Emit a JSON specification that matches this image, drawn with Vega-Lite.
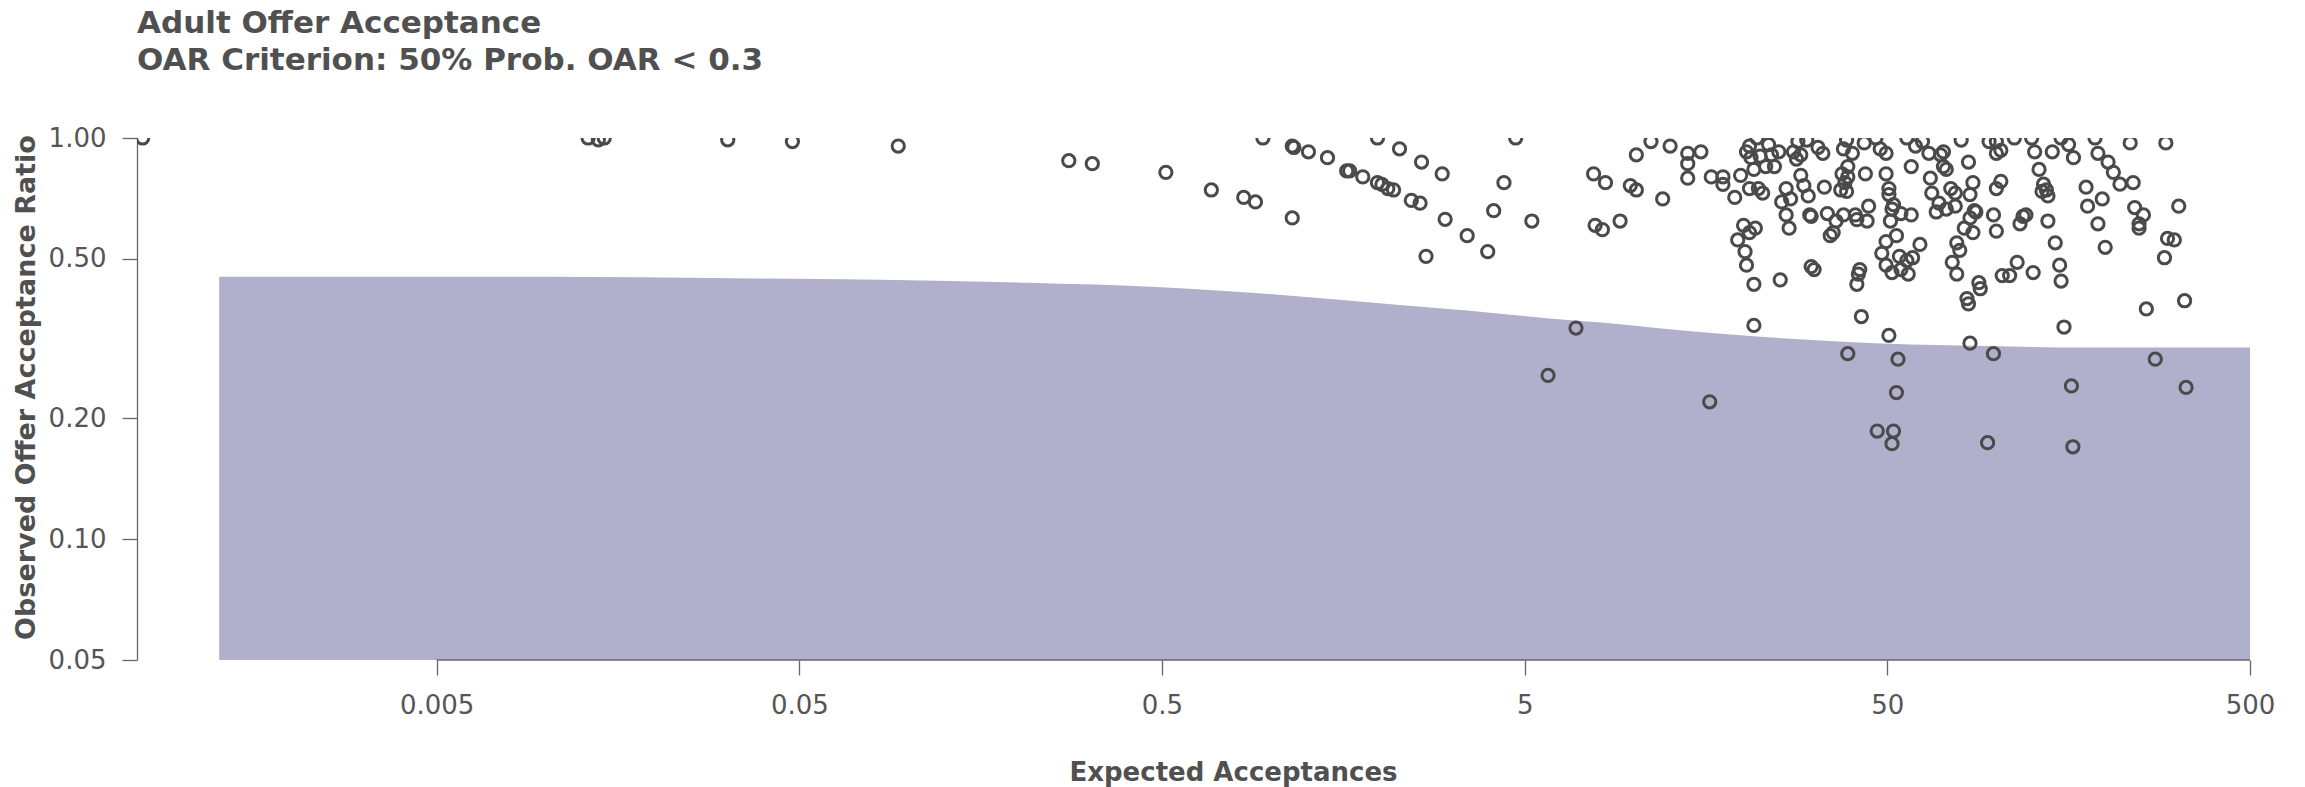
{
  "$schema": "https://vega.github.io/schema/vega-lite/v6.json",
  "width": 2113,
  "height": 522,
  "autosize": {"type": "none"},
  "padding": {"left": 137, "top": 138, "right": 55, "bottom": 127},
  "background": "white",
  "config": {"view": {"stroke": null}, "font": "DejaVu Sans"},
  "title": {
    "text": ["Adult Offer Acceptance", "OAR Criterion: 50% Prob. OAR < 0.3"],
    "anchor": "start",
    "frame": "group",
    "fontSize": 31,
    "fontWeight": "bold",
    "color": "#505050",
    "lineHeight": 37,
    "offset": 48
  },
  "layer": [
    {
      "data": {"values": [
        {"expected": 0.001257, "oar": 0.451},
        {"expected": 0.01, "oar": 0.451},
        {"expected": 0.0333, "oar": 0.447},
        {"expected": 0.0846, "oar": 0.4433},
        {"expected": 0.215, "oar": 0.4358},
        {"expected": 0.498, "oar": 0.4249},
        {"expected": 1.154, "oar": 0.4041},
        {"expected": 2.218, "oar": 0.3842},
        {"expected": 3.53, "oar": 0.3713},
        {"expected": 5.64, "oar": 0.3559},
        {"expected": 8.99, "oar": 0.3441},
        {"expected": 14.34, "oar": 0.330},
        {"expected": 22.87, "oar": 0.3191},
        {"expected": 36.5, "oar": 0.3111},
        {"expected": 58.2, "oar": 0.3058},
        {"expected": 92.8, "oar": 0.3032},
        {"expected": 147.9, "oar": 0.3007},
        {"expected": 500, "oar": 0.3005}
      ]},
      "mark": {"type": "area", "color": "#b0b0cc", "opacity": 1, "interpolate": "monotone"},
      "encoding": {
        "x": {
          "field": "expected", "type": "quantitative",
          "scale": {"type": "log", "domain": [0.000746, 500], "nice": false},
          "axis": {
            "title": "Expected Acceptances",
            "values": [0.005, 0.05, 0.5, 5, 50, 500],
            "format": "~g",
            "domain": false,
            "grid": false,
            "tickSize": 15,
            "tickWidth": 1.3,
            "tickColor": "#666666",
            "labelFontSize": 26,
            "labelColor": "#555555",
            "labelPadding": 17,
            "labelFlush": false,
            "titleFontSize": 26,
            "titleFontWeight": "bold",
            "titleColor": "#505050",
            "titleX": 1096,
            "titleY": 112,
            "titleBaseline": "middle",
            "titleAnchor": null
          }
        },
        "y": {
          "field": "oar", "type": "quantitative",
          "scale": {"type": "log", "domain": [0.05, 1], "nice": false},
          "axis": {
            "title": "Observed Offer Acceptance Ratio",
            "values": [0.05, 0.1, 0.2, 0.5, 1],
            "format": ".2f",
            "grid": false,
            "domainColor": "#666666",
            "domainWidth": 1.3,
            "tickSize": 15,
            "tickWidth": 1.3,
            "tickColor": "#666666",
            "labelFontSize": 26,
            "labelColor": "#555555",
            "labelPadding": 16,
            "labelFlush": false,
            "titleFontSize": 27,
            "titleFontWeight": "bold",
            "titleColor": "#505050",
            "titleX": -111,
            "titleY": 249,
            "titleBaseline": "middle",
            "titleAnchor": null
          }
        },
        "y2": {"datum": 0.05}
      }
    },
    {
      "data": {"values": [{"from": 0.005, "to": 500, "floor": 0.05}]},
      "mark": {"type": "rule", "color": "#666666", "strokeWidth": 1.3},
      "encoding": {
        "x": {"field": "from", "type": "quantitative"},
        "x2": {"field": "to"},
        "y": {"field": "floor", "type": "quantitative"}
      }
    },
    {
      "data": {"values": [
        {"expected": 0.000773, "oar": 1.0},
        {"expected": 0.01308, "oar": 1.0},
        {"expected": 0.01396, "oar": 0.99},
        {"expected": 0.01449, "oar": 1.0},
        {"expected": 0.03174, "oar": 0.99},
        {"expected": 0.04785, "oar": 0.98},
        {"expected": 0.0937, "oar": 0.955},
        {"expected": 0.2767, "oar": 0.878},
        {"expected": 0.3212, "oar": 0.863},
        {"expected": 0.5124, "oar": 0.821},
        {"expected": 0.684, "oar": 0.742},
        {"expected": 0.840, "oar": 0.711},
        {"expected": 0.905, "oar": 0.693},
        {"expected": 0.949, "oar": 1.0},
        {"expected": 1.143, "oar": 0.955},
        {"expected": 1.155, "oar": 0.947},
        {"expected": 1.267, "oar": 0.924},
        {"expected": 1.430, "oar": 0.893},
        {"expected": 1.143, "oar": 0.632},
        {"expected": 1.615, "oar": 0.828},
        {"expected": 1.646, "oar": 0.828},
        {"expected": 1.789, "oar": 0.80},
        {"expected": 1.964, "oar": 0.774},
        {"expected": 2.02, "oar": 0.766},
        {"expected": 2.097, "oar": 0.748},
        {"expected": 2.175, "oar": 0.742},
        {"expected": 1.964, "oar": 1.0},
        {"expected": 2.259, "oar": 0.940},
        {"expected": 2.435, "oar": 0.699},
        {"expected": 2.598, "oar": 0.871},
        {"expected": 2.574, "oar": 0.688},
        {"expected": 2.962, "oar": 0.814},
        {"expected": 2.673, "oar": 0.507},
        {"expected": 3.018, "oar": 0.627},
        {"expected": 3.471, "oar": 0.571},
        {"expected": 3.955, "oar": 0.521},
        {"expected": 4.107, "oar": 0.659},
        {"expected": 4.384, "oar": 0.774},
        {"expected": 4.723, "oar": 1.0},
        {"expected": 5.233, "oar": 0.621},
        {"expected": 5.80, "oar": 0.256},
        {"expected": 6.926, "oar": 0.336},
        {"expected": 7.745, "oar": 0.814},
        {"expected": 7.82, "oar": 0.606},
        {"expected": 8.19, "oar": 0.591},
        {"expected": 8.35, "oar": 0.774},
        {"expected": 9.165, "oar": 0.621},
        {"expected": 9.78, "oar": 0.761},
        {"expected": 10.16, "oar": 0.908},
        {"expected": 10.16, "oar": 0.742},
        {"expected": 11.15, "oar": 0.98},
        {"expected": 12.01, "oar": 0.705},
        {"expected": 12.59, "oar": 0.955},
        {"expected": 14.08, "oar": 0.916},
        {"expected": 14.08, "oar": 0.863},
        {"expected": 14.08, "oar": 0.794},
        {"expected": 15.31, "oar": 0.924},
        {"expected": 16.35, "oar": 0.80},
        {"expected": 17.61, "oar": 0.80},
        {"expected": 17.61, "oar": 0.766},
        {"expected": 16.19, "oar": 0.220},
        {"expected": 18.98, "oar": 0.711},
        {"expected": 19.34, "oar": 0.557},
        {"expected": 20.07, "oar": 0.606},
        {"expected": 20.26, "oar": 0.521},
        {"expected": 20.45, "oar": 0.482},
        {"expected": 20.84, "oar": 0.581},
        {"expected": 21.63, "oar": 0.596},
        {"expected": 20.45, "oar": 0.924},
        {"expected": 20.84, "oar": 0.955},
        {"expected": 21.04, "oar": 0.893},
        {"expected": 21.43, "oar": 0.835},
        {"expected": 21.84, "oar": 1.0},
        {"expected": 19.70, "oar": 0.807},
        {"expected": 20.84, "oar": 0.748},
        {"expected": 22.05, "oar": 0.748},
        {"expected": 22.66, "oar": 0.729},
        {"expected": 22.3, "oar": 0.901},
        {"expected": 23.1, "oar": 0.849},
        {"expected": 21.43, "oar": 0.432},
        {"expected": 21.43, "oar": 0.341},
        {"expected": 23.52, "oar": 0.963},
        {"expected": 23.97, "oar": 0.908},
        {"expected": 24.42, "oar": 0.849},
        {"expected": 25.1, "oar": 0.924},
        {"expected": 25.57, "oar": 0.693},
        {"expected": 26.3, "oar": 0.748},
        {"expected": 26.3, "oar": 0.643},
        {"expected": 26.8, "oar": 0.596},
        {"expected": 27.05, "oar": 0.705},
        {"expected": 25.33, "oar": 0.443},
        {"expected": 27.56, "oar": 0.924},
        {"expected": 28.08, "oar": 0.886},
        {"expected": 28.86, "oar": 0.908},
        {"expected": 28.86, "oar": 0.807},
        {"expected": 29.42, "oar": 0.761},
        {"expected": 30.26, "oar": 0.717},
        {"expected": 30.55, "oar": 0.643},
        {"expected": 30.83, "oar": 0.638},
        {"expected": 30.83, "oar": 0.478},
        {"expected": 31.41, "oar": 0.470},
        {"expected": 29.98, "oar": 0.988},
        {"expected": 28.34, "oar": 0.980},
        {"expected": 32.2, "oar": 0.947},
        {"expected": 33.21, "oar": 0.916},
        {"expected": 33.52, "oar": 0.754},
        {"expected": 34.16, "oar": 0.648},
        {"expected": 34.8, "oar": 0.571},
        {"expected": 35.45, "oar": 0.581},
        {"expected": 36.1, "oar": 0.621},
        {"expected": 37.85, "oar": 0.643},
        {"expected": 37.85, "oar": 0.939},
        {"expected": 38.6, "oar": 0.988},
        {"expected": 38.6, "oar": 0.736},
        {"expected": 38.9, "oar": 0.800},
        {"expected": 38.9, "oar": 0.849},
        {"expected": 37.5, "oar": 0.814},
        {"expected": 38.2, "oar": 0.774},
        {"expected": 37.2, "oar": 0.742},
        {"expected": 40.05, "oar": 0.916},
        {"expected": 40.8, "oar": 0.643},
        {"expected": 41.2, "oar": 0.626},
        {"expected": 41.6, "oar": 0.458},
        {"expected": 41.2, "oar": 0.432},
        {"expected": 41.97, "oar": 0.470},
        {"expected": 38.9, "oar": 0.290},
        {"expected": 43.17, "oar": 0.972},
        {"expected": 42.4, "oar": 0.359},
        {"expected": 43.98, "oar": 0.621},
        {"expected": 44.4, "oar": 0.676},
        {"expected": 43.5, "oar": 0.814},
        {"expected": 46.5, "oar": 1.0},
        {"expected": 47.8, "oar": 0.939},
        {"expected": 49.6, "oar": 0.814},
        {"expected": 49.6, "oar": 0.916},
        {"expected": 50.5, "oar": 0.748},
        {"expected": 50.5, "oar": 0.723},
        {"expected": 51.0, "oar": 0.621},
        {"expected": 51.5, "oar": 0.665},
        {"expected": 52.0, "oar": 0.682},
        {"expected": 52.98, "oar": 0.571},
        {"expected": 54.5, "oar": 0.648},
        {"expected": 54.0, "oar": 0.507},
        {"expected": 56.6, "oar": 1.0},
        {"expected": 58.2, "oar": 0.643},
        {"expected": 58.2, "oar": 0.849},
        {"expected": 59.8, "oar": 0.955},
        {"expected": 48.28, "oar": 0.516},
        {"expected": 49.6, "oar": 0.482},
        {"expected": 49.6, "oar": 0.552},
        {"expected": 51.5, "oar": 0.462},
        {"expected": 50.5, "oar": 0.322},
        {"expected": 54.5, "oar": 0.470},
        {"expected": 56.6, "oar": 0.495},
        {"expected": 57.1, "oar": 0.458},
        {"expected": 58.7, "oar": 0.503},
        {"expected": 61.5, "oar": 0.543},
        {"expected": 62.5, "oar": 0.980},
        {"expected": 65.1, "oar": 0.916},
        {"expected": 65.7, "oar": 0.794},
        {"expected": 66.3, "oar": 0.729},
        {"expected": 68.2, "oar": 0.654},
        {"expected": 69.4, "oar": 0.688},
        {"expected": 70.1, "oar": 0.908},
        {"expected": 71.4, "oar": 0.924},
        {"expected": 71.4, "oar": 0.849},
        {"expected": 72.7, "oar": 0.835},
        {"expected": 72.7, "oar": 0.665},
        {"expected": 74.8, "oar": 0.748},
        {"expected": 76.96, "oar": 0.729},
        {"expected": 76.96, "oar": 0.676},
        {"expected": 77.7, "oar": 0.548},
        {"expected": 75.5, "oar": 0.490},
        {"expected": 77.7, "oar": 0.458},
        {"expected": 79.2, "oar": 0.525},
        {"expected": 81.5, "oar": 0.596},
        {"expected": 79.9, "oar": 0.988},
        {"expected": 83.7, "oar": 0.871},
        {"expected": 86.1, "oar": 0.774},
        {"expected": 84.5, "oar": 0.723},
        {"expected": 84.5, "oar": 0.632},
        {"expected": 86.1, "oar": 0.581},
        {"expected": 86.9, "oar": 0.659},
        {"expected": 87.7, "oar": 0.654},
        {"expected": 89.4, "oar": 0.436},
        {"expected": 82.9, "oar": 0.398},
        {"expected": 90.2, "oar": 0.421},
        {"expected": 84.5, "oar": 0.308},
        {"expected": 83.7, "oar": 0.386},
        {"expected": 95.4, "oar": 0.980},
        {"expected": 99.9, "oar": 0.916},
        {"expected": 99.9, "oar": 0.98},
        {"expected": 102.8, "oar": 0.932},
        {"expected": 102.8, "oar": 0.780},
        {"expected": 99.9, "oar": 0.748},
        {"expected": 98.1, "oar": 0.643},
        {"expected": 99.9, "oar": 0.586},
        {"expected": 103.7, "oar": 0.454},
        {"expected": 108.7, "oar": 0.454},
        {"expected": 112.0, "oar": 1.0},
        {"expected": 114.0, "oar": 0.490},
        {"expected": 116.1, "oar": 0.611},
        {"expected": 118.3, "oar": 0.638},
        {"expected": 120.5, "oar": 0.643},
        {"expected": 125.0, "oar": 1.0},
        {"expected": 127.4, "oar": 0.924},
        {"expected": 131.0, "oar": 0.835},
        {"expected": 133.5, "oar": 0.736},
        {"expected": 134.8, "oar": 0.767},
        {"expected": 138.6, "oar": 0.717},
        {"expected": 138.6, "oar": 0.621},
        {"expected": 145.2, "oar": 0.548},
        {"expected": 142.5, "oar": 0.924},
        {"expected": 149.3, "oar": 0.482},
        {"expected": 150.7, "oar": 0.440},
        {"expected": 150.7, "oar": 1.0},
        {"expected": 126.2, "oar": 0.462},
        {"expected": 137.3, "oar": 0.742},
        {"expected": 153.5, "oar": 0.338},
        {"expected": 158.0, "oar": 0.963},
        {"expected": 163.0, "oar": 0.893},
        {"expected": 176.6, "oar": 0.754},
        {"expected": 186.9, "oar": 1.0},
        {"expected": 190.4, "oar": 0.611},
        {"expected": 199.4, "oar": 0.534},
        {"expected": 178.3, "oar": 0.676},
        {"expected": 190.4, "oar": 0.916},
        {"expected": 195.7, "oar": 0.705},
        {"expected": 203.0, "oar": 0.871},
        {"expected": 210.0, "oar": 0.821},
        {"expected": 219.0, "oar": 0.767},
        {"expected": 233.7, "oar": 0.972},
        {"expected": 240.4, "oar": 0.671},
        {"expected": 247.2, "oar": 0.596},
        {"expected": 247.2, "oar": 0.611},
        {"expected": 238.1, "oar": 0.774},
        {"expected": 254.1, "oar": 0.643},
        {"expected": 258.9, "oar": 0.375},
        {"expected": 274.0, "oar": 0.281},
        {"expected": 290.5, "oar": 0.503},
        {"expected": 293.0, "oar": 0.972},
        {"expected": 296.1, "oar": 0.562},
        {"expected": 309.2, "oar": 0.557},
        {"expected": 318.0, "oar": 0.676},
        {"expected": 330.1, "oar": 0.393},
        {"expected": 52.98, "oar": 0.232},
        {"expected": 53.5, "oar": 0.281},
        {"expected": 98.1, "oar": 0.290},
        {"expected": 160.9, "oar": 0.241},
        {"expected": 333.2, "oar": 0.239},
        {"expected": 46.9, "oar": 0.186},
        {"expected": 52.0, "oar": 0.186},
        {"expected": 51.5, "oar": 0.173},
        {"expected": 94.5, "oar": 0.174},
        {"expected": 162.4, "oar": 0.170}
      ]},
      "mark": {"type": "point", "shape": "circle", "filled": false, "stroke": "#4a4a4a", "strokeWidth": 3, "size": 150, "opacity": 1, "clip": true},
      "encoding": {
        "x": {"field": "expected", "type": "quantitative"},
        "y": {"field": "oar", "type": "quantitative"}
      }
    }
  ]
}
